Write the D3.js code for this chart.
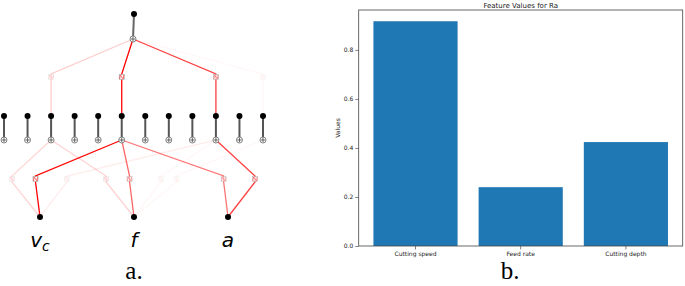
<!DOCTYPE html>
<html>
<head>
<meta charset="utf-8">
<script src="https://cdn.jsdelivr.net/npm/d3@7"></script>
<style>
  body { margin: 0; background: #fff; }
  svg { display: block; }
  .tick text { font-family: "DejaVu Sans", sans-serif; }
</style>
</head>
<body>
<svg width="685" height="286"></svg>
<script>
// network panel (a.)
const inputNames = ['v', 'f', 'a'];
const inputSubs = ['c', '', ''];
const hiddenCount = 12;
// lower layer edges: [input, hidden, strength]
const lowerEdges = [
  [0, 5, 1.0], [0, 2, 0.16], [0, 9, 0.07],
  [1, 5, 0.6], [1, 2, 0.18], [1, 9, 0.04], [1, 11, 0.04],
  [2, 5, 0.55], [2, 9, 0.75]
];
// upper layer edges: [hidden, strength]
const upperEdges = [[2, 0.2], [5, 1.0], [9, 0.75], [11, 0.03]];

// bar panel (b.)
const categories = ['Cutting speed', 'Feed rate', 'Cutting depth'];
const values = [0.917, 0.240, 0.424];
const yTicks = [0.0, 0.2, 0.4, 0.6, 0.8];

const svg = d3.select('svg');

// ---------- network ----------
const xIn = d3.scalePoint().domain(d3.range(inputNames.length)).range([40, 228]);
const xHid = d3.scalePoint().domain(d3.range(hiddenCount)).range([4, 263]);
const xBox = d3.scaleLinear().domain([0, inputNames.length * hiddenCount - 1]).range([-3.7, 270.7]);
const yLev = d3.scaleOrdinal()
  .domain(['out', 'sum', 'box2', 'hid', 'hsum', 'box1', 'in'])
  .range([14, 39, 77, 116, 140, 179, 217]);

const net = svg.append('g');
const red = '#ff0000';

function drawBox(x, y, s) {
  const op = Math.min(1, s * 0.9 + 0.05);
  net.append('rect')
    .attr('x', x - 2.5).attr('y', y - 2.5).attr('width', 5).attr('height', 5)
    .attr('fill', '#fff').attr('stroke', '#999').attr('stroke-width', 0.6).attr('opacity', op);
  net.append('path')
    .attr('d', `M${x - 2},${y + 2} L${x - 1.5},${y - 2} L${x + 1.5},${y + 2} L${x + 2},${y - 2}`)
    .attr('fill', 'none').attr('stroke', red).attr('stroke-width', 0.6).attr('opacity', op);
}

// lower edges
lowerEdges.forEach(([i, j, s]) => {
  const bx = xBox(i * hiddenCount + j);
  net.append('path')
    .attr('d', d3.line()([[xIn(i), yLev('in')], [bx, yLev('box1') + 3], [bx, yLev('box1') - 3], [xHid(j), yLev('hsum')]]))
    .attr('fill', 'none').attr('stroke', red).attr('stroke-width', 1.3).attr('stroke-opacity', s);
  drawBox(bx, yLev('box1'), s);
});

// upper edges
const sumX = 133;
upperEdges.forEach(([j, s]) => {
  const bx = xHid(j);
  net.append('path')
    .attr('d', d3.line()([[bx, yLev('hid')], [bx, yLev('box2') + 3], [bx, yLev('box2') - 3], [sumX, yLev('sum')]]))
    .attr('fill', 'none').attr('stroke', red).attr('stroke-width', 1.3).attr('stroke-opacity', s);
  drawBox(bx, yLev('box2'), s);
});

// node stems
net.selectAll('.stem').data(d3.range(hiddenCount)).join('line')
  .attr('x1', d => xHid(d)).attr('x2', d => xHid(d))
  .attr('y1', yLev('hid')).attr('y2', yLev('hsum'))
  .attr('stroke', '#555').attr('stroke-width', 2);
net.append('line')
  .attr('x1', 134).attr('x2', sumX).attr('y1', yLev('out')).attr('y2', yLev('sum'))
  .attr('stroke', '#666').attr('stroke-width', 2);

function plus(x, y) {
  net.append('circle').attr('cx', x).attr('cy', y).attr('r', 3)
    .attr('fill', '#fff').attr('stroke', '#666').attr('stroke-width', 0.8);
  net.append('path').attr('d', `M${x - 2.2},${y} H${x + 2.2} M${x},${y - 2.2} V${y + 2.2}`)
    .attr('stroke', '#444').attr('stroke-width', 0.8);
}
d3.range(hiddenCount).forEach(d => plus(xHid(d), yLev('hsum')));
plus(sumX, yLev('sum'));

net.selectAll('.hdot').data(d3.range(hiddenCount)).join('circle')
  .attr('cx', d => xHid(d)).attr('cy', yLev('hid')).attr('r', 3).attr('fill', '#000');
net.append('circle').attr('cx', 134).attr('cy', yLev('out')).attr('r', 3).attr('fill', '#000');
net.selectAll('.idot').data(d3.range(inputNames.length)).join('circle')
  .attr('cx', d => xIn(d)).attr('cy', yLev('in')).attr('r', 3).attr('fill', '#000');

// input labels
inputNames.forEach((n, i) => {
  const t = net.append('text')
    .attr('x', xIn(i)).attr('y', 247)
    .attr('text-anchor', 'middle')
    .attr('font-family', 'DejaVu Sans, sans-serif')
    .attr('font-style', 'italic').attr('font-size', 20)
    .text(n);
  if (inputSubs[i]) {
    t.append('tspan').attr('dy', 4).attr('font-size', 14).text(inputSubs[i]);
  }
});

svg.append('text').attr('x', 134).attr('y', 279).attr('text-anchor', 'middle')
  .attr('font-family', 'Liberation Serif, serif').attr('font-size', 25).text('a.');

// ---------- bar chart ----------
const pl = 358.7, pr = 682.7, pt = 10, pb = 246;
const x = d3.scaleBand().domain(categories).range([pl, pr]).paddingInner(0.2).paddingOuter(0.14);
const y = d3.scaleLinear().domain([0, d3.max(values) * 1.05]).range([pb, pt]);

const chart = svg.append('g');
chart.selectAll('.bar').data(values).join('rect')
  .attr('x', (d, i) => x(categories[i]))
  .attr('width', x.bandwidth())
  .attr('y', d => y(d))
  .attr('height', d => y(0) - y(d))
  .attr('fill', '#1f77b4');

chart.append('g').attr('transform', `translate(${pl},0)`)
  .call(d3.axisLeft(y).tickValues(yTicks).tickFormat(d3.format('.1f')).tickSize(3.5).tickPadding(2))
  .call(g => g.select('.domain').remove())
  .call(g => g.selectAll('line').attr('stroke', '#333').attr('stroke-width', 0.6))
  .call(g => g.selectAll('text').attr('font-size', 6).attr('fill', '#222'));

chart.append('g').attr('transform', `translate(0,${pb})`)
  .call(d3.axisBottom(x).tickSize(3.5).tickPadding(2))
  .call(g => g.select('.domain').remove())
  .call(g => g.selectAll('line').attr('stroke', '#333').attr('stroke-width', 0.6))
  .call(g => g.selectAll('text').attr('font-size', 6).attr('fill', '#222'));

chart.append('rect')
  .attr('x', pl).attr('y', pt).attr('width', pr - pl).attr('height', pb - pt)
  .attr('fill', 'none').attr('stroke', '#444').attr('stroke-width', 0.8);

chart.append('text').attr('x', (pl + pr) / 2).attr('y', 7.5).attr('text-anchor', 'middle')
  .attr('font-family', 'DejaVu Sans, sans-serif').attr('font-size', 7).attr('fill', '#222')
  .text('Feature Values for Ra');

chart.append('text')
  .attr('transform', `translate(340,${(pt + pb) / 2}) rotate(-90)`)
  .attr('text-anchor', 'middle')
  .attr('font-family', 'DejaVu Sans, sans-serif').attr('font-size', 6).attr('fill', '#222')
  .text('Values');

svg.append('text').attr('x', 510).attr('y', 279).attr('text-anchor', 'middle')
  .attr('font-family', 'Liberation Serif, serif').attr('font-size', 25).text('b.');
</script>
</body>
</html>
